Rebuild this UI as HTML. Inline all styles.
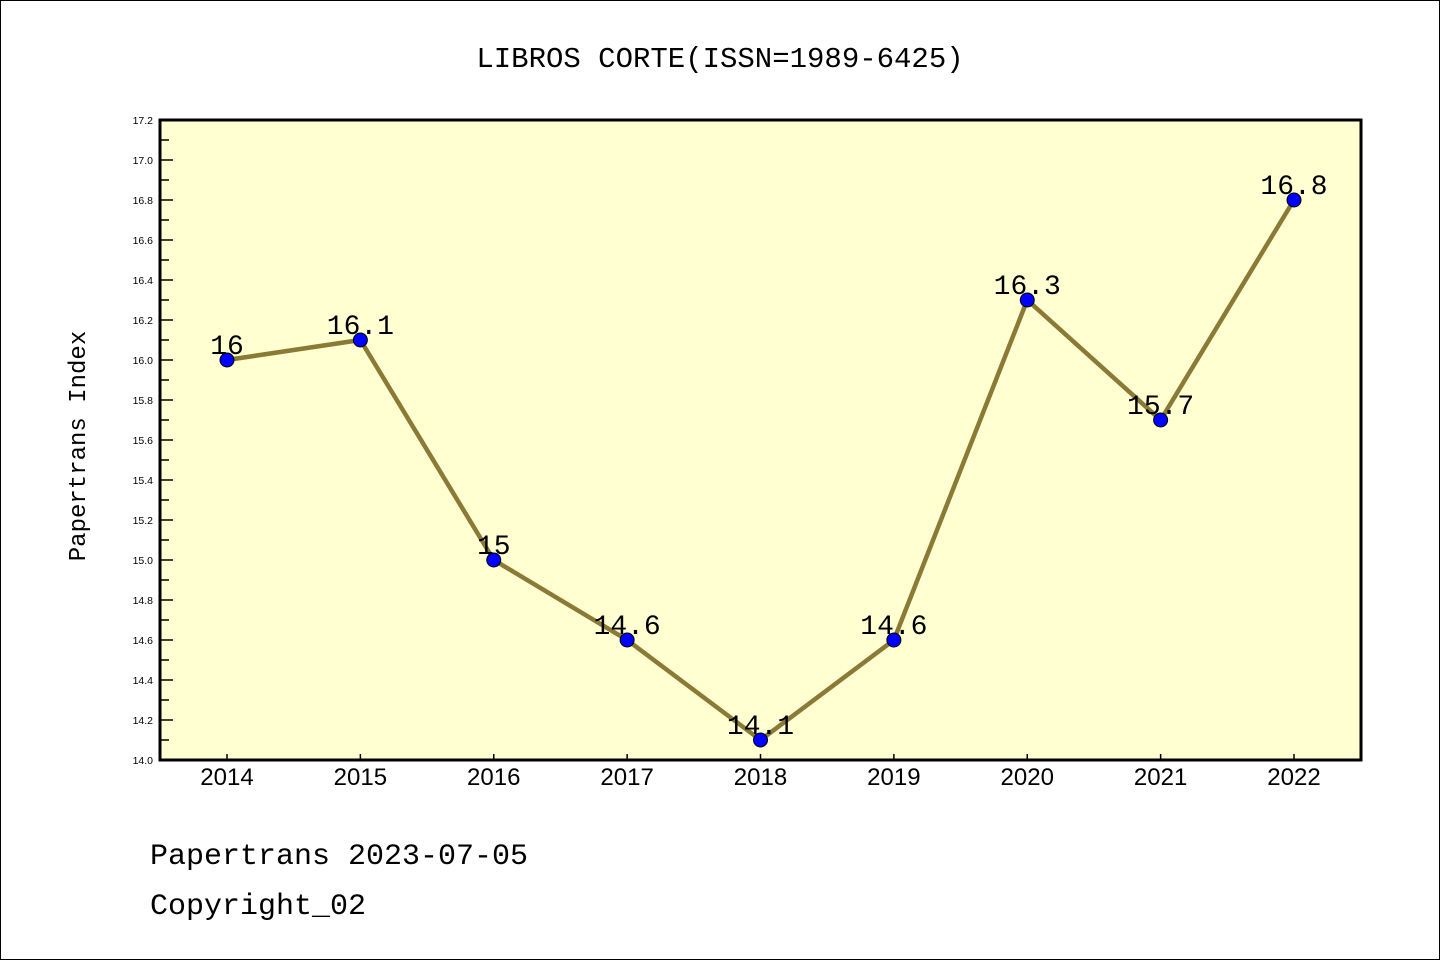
<!DOCTYPE html>
<html><head><meta charset="utf-8"><style>
body{margin:0;background:#fff}
svg{display:block;font-family:"Liberation Sans","DejaVu Sans",sans-serif}
</style></head><body>
<svg id="c" width="1440" height="960">
<rect x="0.5" y="0.5" width="1439" height="959" fill="#fff" stroke="#000"/>
<text x="720" y="67" text-anchor="middle" font-size="29" font-family="Liberation Mono, DejaVu Sans Mono, monospace">LIBROS CORTE(ISSN=1989-6425)</text>
<rect x="160" y="120" width="1201" height="640" fill="#ffffd2"/>
<g id="ticks"></g>
<g id="series"></g>
<rect x="160" y="120" width="1201" height="640" fill="none" stroke="#000" stroke-width="3"/>
<text transform="translate(85,446) rotate(-90)" text-anchor="middle" font-size="24" font-family="Liberation Mono, DejaVu Sans Mono, monospace">Papertrans Index</text>
<text x="150" y="864" font-size="30" font-family="Liberation Mono, DejaVu Sans Mono, monospace">Papertrans 2023-07-05</text>
<text x="150" y="914" font-size="30" font-family="Liberation Mono, DejaVu Sans Mono, monospace">Copyright_02</text>
</svg>
<script>
const years=[2014,2015,2016,2017,2018,2019,2020,2021,2022];
const values=[16,16.1,15,14.6,14.1,14.6,16.3,15.7,16.8];
const labels=["16","16.1","15","14.6","14.1","14.6","16.3","15.7","16.8"];
const yTicks=[14.0,14.2,14.4,14.6,14.8,15.0,15.2,15.4,15.6,15.8,16.0,16.2,16.4,16.6,16.8,17.0,17.2];
const NS="http://www.w3.org/2000/svg";
const x=i=>227+i*133.375;
const y=v=>760-(v-14)/3.2*640;
function mk(t,a,p){const e=document.createElementNS(NS,t);for(const k in a)e.setAttribute(k,a[k]);p.appendChild(e);return e;}
const tg=document.getElementById('ticks'),sg=document.getElementById('series');
yTicks.forEach((v,k)=>{
 const l=mk('line',{x1:160,x2:173,y1:y(v),y2:y(v),stroke:'#000','stroke-width':1.5},tg);
 
 
 if(k<yTicks.length-1){
 const m=mk('line',{x1:160,x2:169,y1:y(v+0.1),y2:y(v+0.1),stroke:'#000','stroke-width':1.5},tg);
 
 
 }
 const t=mk('text',{x:153,y:y(v)+4,'text-anchor':'end','font-size':10.5},tg);
 t.textContent=v.toFixed(1);
 
 
});
years.forEach((yr,i)=>{
 const l=mk('line',{x1:x(i),x2:x(i),y1:760,y2:754,stroke:'#000','stroke-width':1.5},tg);
 
 
 const t=mk('text',{x:x(i),y:785,'text-anchor':'middle','font-size':24},tg);
 t.textContent=yr;
 
 
});
const pl=mk('polyline',{points:values.map((v,i)=>x(i)+','+y(v)).join(' '),fill:'none',stroke:'#8b7a35','stroke-width':4.5},sg);


values.forEach((v,i)=>{
 const c=mk('circle',{cx:x(i),cy:y(v),r:7,fill:'#0000ff',stroke:'#000','stroke-width':1},sg);
 
 
 const t=mk('text',{x:x(i),y:y(v)-6,'text-anchor':'middle','font-size':28,'font-family':'Liberation Mono, DejaVu Sans Mono, monospace'},sg);
 t.textContent=labels[i];
 
 
});
</script>
</body></html>
